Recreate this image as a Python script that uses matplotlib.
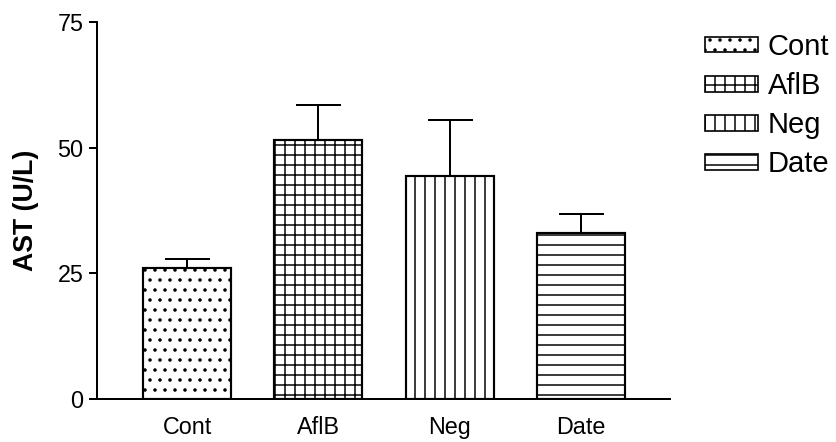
import matplotlib
matplotlib.use("Agg")
import matplotlib.pyplot as plt
from matplotlib.patches import Patch

categories = ["Cont", "AflB", "Neg", "Date"]
means = [26.0, 51.6, 44.4, 33.1]
errors = [1.8, 6.9, 11.1, 3.8]
hatches = ["..", "++", "||", "--"]
yticks = [0, 25, 50, 75]

DPI = 120
plt.rcParams['font.family'] = ['Liberation Sans', 'DejaVu Sans']
plt.rcParams['hatch.linewidth'] = 0.9
plt.rcParams['hatch.color'] = 'black'

fig = plt.figure(figsize=(836 / DPI, 442 / DPI), dpi=DPI)
ax = fig.add_axes([97 / 836, 1 - 399 / 442, (670 - 97) / 836, (399 - 22) / 442])

x = list(range(len(categories)))
bars = ax.bar(x, means, width=0.67, color='white', edgecolor='black',
              linewidth=1.3, zorder=2)
for b, h in zip(bars, hatches):
    b.set_hatch(h)

ax.errorbar(x, means, yerr=[[0] * len(errors), errors], fmt='none',
            ecolor='black', elinewidth=1.2, capsize=13.5, capthick=1.2, zorder=1)

ax.set_xlim(-0.687, 3.68)
ax.set_ylim(0, 75)
ax.set_yticks(yticks)
ax.set_xticks(x)
ax.set_xticklabels(categories, fontsize=14)
ax.tick_params(axis='x', length=0, pad=10)
ax.tick_params(axis='y', length=5, width=1.2, labelsize=14, pad=3)
for s in ['top', 'right']:
    ax.spines[s].set_visible(False)
for s in ['left', 'bottom']:
    ax.spines[s].set_linewidth(1.2)
ax.set_ylabel("AST (U/L)", fontsize=16, fontweight='bold', labelpad=11)

handles = [Patch(facecolor='white', edgecolor='black', hatch=h, linewidth=1.0)
           for h in hatches]
fig.legend(handles, categories, loc='upper left',
           bbox_to_anchor=(705 / 836, 1 - 33 / 442), frameon=False,
           fontsize=17.5, handlelength=1.8, handleheight=0.45,
           handletextpad=0.35, labelspacing=0.38, borderpad=0, borderaxespad=0)

fig.savefig("out.png", dpi=DPI)
